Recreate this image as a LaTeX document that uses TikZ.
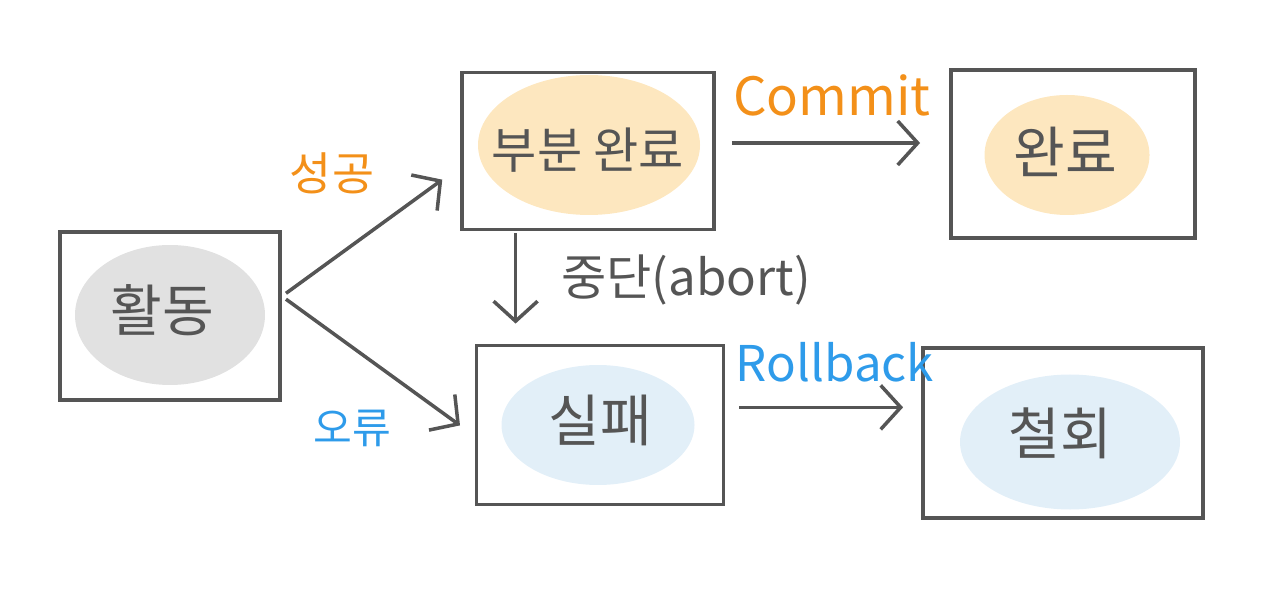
\documentclass[tikz,border=0pt]{standalone}
\usepackage{fontspec}
\setmainfont{Noto Sans CJK KR}
\usepackage{xcolor}
\usetikzlibrary{arrows.meta,shapes.geometric}
\definecolor{ink}{HTML}{555555}
\definecolor{okorange}{HTML}{F39019}
\definecolor{errblue}{HTML}{2E9BEA}
\definecolor{blobgray}{HTML}{E1E1E1}
\definecolor{blobpeach}{HTML}{FDE7BF}
\definecolor{blobblue}{HTML}{E2EFF8}

\begin{document}
\begin{tikzpicture}[x=1cm,y=1cm,
    every node/.style={text=ink},
    statebox/.style={draw=ink,line width=1.1pt,inner sep=0pt},
    blob/.style={ellipse,fill=#1,inner sep=0pt},
    big/.style={font=\fontsize{16}{18}\selectfont},
    arr/.style={draw=ink,line width=1pt,-{Straight Barb[length=2mm,width=4.4mm,line width=1pt]}},
    lbl/.style={font=\fontsize{12}{14}\selectfont}]
  \useasboundingbox (0,0) rectangle (12.8,6.15);
  % boxes
  \node[statebox,minimum width=2.20cm,minimum height=1.68cm] (act) at (1.70,2.99) {};
  \node[statebox,minimum width=2.52cm,minimum height=1.57cm] (part) at (5.88,4.64) {};
  \node[statebox,minimum width=2.44cm,minimum height=1.68cm] (done) at (10.73,4.61) {};
  \node[statebox,minimum width=2.47cm,minimum height=1.59cm] (fail) at (6.00,1.90) {};
  \node[statebox,minimum width=2.80cm,minimum height=1.70cm] (cancel) at (10.63,1.82) {};
  % blobs
  \node[blob=blobgray,minimum width=1.90cm,minimum height=1.40cm] (actb) at (1.70,3.00) {};
  \node[blob=blobpeach,minimum width=2.22cm,minimum height=1.40cm] (partb) at (5.89,4.70) {};
  \node[blob=blobpeach,minimum width=1.65cm,minimum height=1.20cm] (doneb) at (10.67,4.60) {};
  \node[blob=blobblue,minimum width=1.93cm,minimum height=1.20cm] (failb) at (5.98,1.90) {};
  \node[blob=blobblue,minimum width=2.20cm,minimum height=1.35cm] (cancelb) at (10.70,1.73) {};
  % texts
  \node[big] (actt) at (1.62,3.05) {활동};
  \node[font=\fontsize{14}{16}\selectfont] (partt) at (5.88,4.65) {부분 완료};
  \node[big] (donet) at (10.65,4.63) {완료};
  \node[big] (failt) at (6.00,1.95) {실패};
  \node[big] (cancelt) at (10.60,1.82) {철회};
  % connectors
  \draw[arr,shorten <=0.05cm,shorten >=0.22cm] (act.10) -- (part.187);
  \draw[arr,shorten <=0.05cm,shorten >=0.18cm] (act.10) -- (fail.185);
  \draw[arr,shorten <=0.02cm,shorten >=0.2cm] (part.228) -- (part.228 |- fail.north);
  \draw[arr,shorten <=0.16cm,shorten >=0.29cm] ([yshift=0.08cm]part.east) -- ([yshift=0.08cm]part.east -| done.west);
  \draw[arr,shorten <=0.14cm,shorten >=0.18cm] (fail.8) -- (fail.8 -| cancel.west);
  % labels
  \node[lbl,text=okorange,font=\fontsize{13}{15}\selectfont] (oklbl) at (3.32,4.42) {성공};
  \node[lbl,text=errblue] (errlbl) at (3.52,1.87) {오류};
  \node[lbl,font=\fontsize{14}{16}\selectfont] (abortlbl) at (6.86,3.35) {중단(abort)};
  \node[lbl,text=okorange,font=\fontsize{15}{17}\selectfont] (commitlbl) at (8.32,5.20) {Commit};
  \node[lbl,text=errblue,font=\fontsize{14}{16}\selectfont] (rolllbl) at (8.35,2.53) {Rollback};
\end{tikzpicture}
\end{document}
